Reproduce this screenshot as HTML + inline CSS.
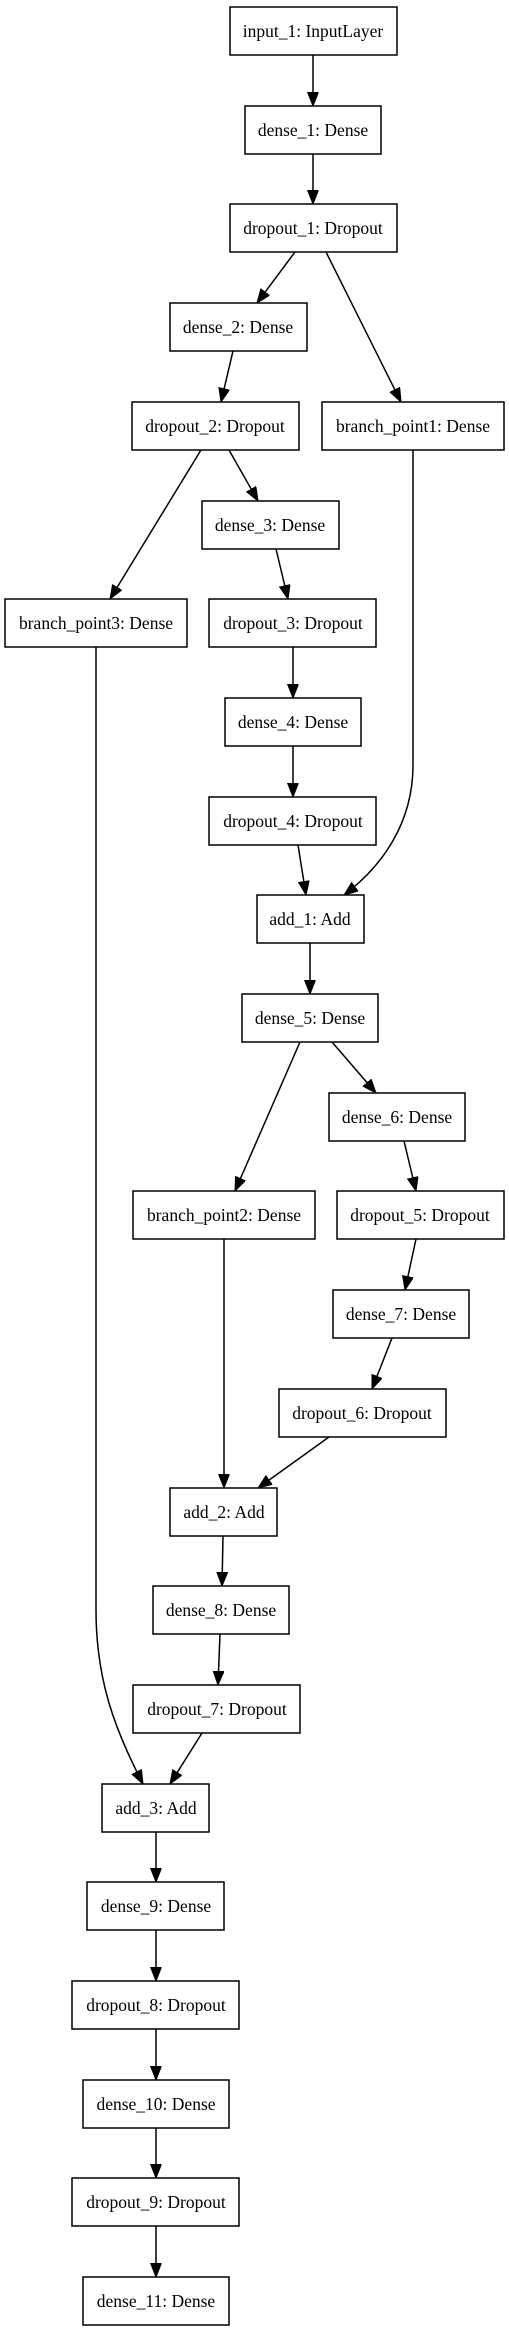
<!DOCTYPE html>
<html><head><meta charset="utf-8"><style>
html,body{margin:0;padding:0;background:#fff;}
svg{display:block;}
text{font-family:"Liberation Serif",serif;font-size:17.5px;fill:#000;text-anchor:middle;}
rect{fill:#fff;stroke:#000;stroke-width:1.5;}
path{fill:none;stroke:#000;stroke-width:1.5;}
</style></head><body>
<svg width="509" height="2331" viewBox="0 0 509 2331" xmlns="http://www.w3.org/2000/svg">
<defs><marker id="a" markerUnits="userSpaceOnUse" markerWidth="16" markerHeight="12" refX="14" refY="5.5" orient="auto"><path d="M0,0 L14,5.5 L0,11 Z" style="fill:#000;stroke:#000;stroke-width:1"/></marker></defs>
<g>
<path d="M313,55 L313,106" marker-end="url(#a)"/>
<path d="M313,154 L313,204" marker-end="url(#a)"/>
<path d="M295,252 L257,303" marker-end="url(#a)"/>
<path d="M326,252 L401,402" marker-end="url(#a)"/>
<path d="M233,351 L221,402" marker-end="url(#a)"/>
<path d="M201,450 L110,599" marker-end="url(#a)"/>
<path d="M229,450 L258,501" marker-end="url(#a)"/>
<path d="M413,450 L413,765 C413,825 380,868 344,895" marker-end="url(#a)"/>
<path d="M276,549 L288,599" marker-end="url(#a)"/>
<path d="M293,647 L293,698" marker-end="url(#a)"/>
<path d="M293,746 L293,797" marker-end="url(#a)"/>
<path d="M298,845 L306,895" marker-end="url(#a)"/>
<path d="M96,647 L96,1610 C96,1680 115,1730 143,1784" marker-end="url(#a)"/>
<path d="M310,943 L310,994" marker-end="url(#a)"/>
<path d="M300,1042 L235,1191" marker-end="url(#a)"/>
<path d="M332,1042 L376,1093" marker-end="url(#a)"/>
<path d="M404,1141 L416,1191" marker-end="url(#a)"/>
<path d="M416,1239 L405,1290" marker-end="url(#a)"/>
<path d="M392,1338 L372,1389" marker-end="url(#a)"/>
<path d="M224,1239 L224,1488" marker-end="url(#a)"/>
<path d="M329,1437 L258,1488" marker-end="url(#a)"/>
<path d="M223,1536 L222,1586" marker-end="url(#a)"/>
<path d="M220,1634 L218,1685" marker-end="url(#a)"/>
<path d="M202,1733 L170,1784" marker-end="url(#a)"/>
<path d="M156,1832 L156,1882" marker-end="url(#a)"/>
<path d="M156,1930 L156,1981" marker-end="url(#a)"/>
<path d="M156,2029 L156,2080" marker-end="url(#a)"/>
<path d="M156,2128 L156,2178" marker-end="url(#a)"/>
<path d="M156,2226 L156,2277" marker-end="url(#a)"/>
</g>
<g>
<rect x="230" y="7" width="167" height="48"/><text x="313" y="37">input_1: InputLayer</text>
<rect x="245" y="106" width="136" height="48"/><text x="313" y="136">dense_1: Dense</text>
<rect x="230" y="204" width="167" height="48"/><text x="313" y="234">dropout_1: Dropout</text>
<rect x="170" y="303" width="137" height="48"/><text x="238" y="333">dense_2: Dense</text>
<rect x="132" y="402" width="167" height="48"/><text x="215" y="432">dropout_2: Dropout</text>
<rect x="322" y="402" width="182" height="48"/><text x="413" y="432">branch_point1: Dense</text>
<rect x="202" y="501" width="137" height="48"/><text x="270" y="531">dense_3: Dense</text>
<rect x="5" y="599" width="182" height="48"/><text x="96" y="629">branch_point3: Dense</text>
<rect x="209" y="599" width="167" height="48"/><text x="293" y="629">dropout_3: Dropout</text>
<rect x="225" y="698" width="136" height="48"/><text x="293" y="728">dense_4: Dense</text>
<rect x="209" y="797" width="167" height="48"/><text x="293" y="827">dropout_4: Dropout</text>
<rect x="257" y="895" width="107" height="48"/><text x="310" y="925">add_1: Add</text>
<rect x="242" y="994" width="136" height="48"/><text x="310" y="1024">dense_5: Dense</text>
<rect x="329" y="1093" width="136" height="48"/><text x="397" y="1123">dense_6: Dense</text>
<rect x="133" y="1191" width="182" height="48"/><text x="224" y="1221">branch_point2: Dense</text>
<rect x="337" y="1191" width="167" height="48"/><text x="420" y="1221">dropout_5: Dropout</text>
<rect x="333" y="1290" width="136" height="48"/><text x="401" y="1320">dense_7: Dense</text>
<rect x="279" y="1389" width="167" height="48"/><text x="362" y="1419">dropout_6: Dropout</text>
<rect x="170" y="1488" width="107" height="48"/><text x="224" y="1518">add_2: Add</text>
<rect x="153" y="1586" width="136" height="48"/><text x="221" y="1616">dense_8: Dense</text>
<rect x="133" y="1685" width="167" height="48"/><text x="217" y="1715">dropout_7: Dropout</text>
<rect x="102" y="1784" width="107" height="48"/><text x="156" y="1814">add_3: Add</text>
<rect x="87" y="1882" width="137" height="48"/><text x="156" y="1912">dense_9: Dense</text>
<rect x="72" y="1981" width="167" height="48"/><text x="156" y="2011">dropout_8: Dropout</text>
<rect x="83" y="2080" width="146" height="48"/><text x="156" y="2110">dense_10: Dense</text>
<rect x="72" y="2178" width="167" height="48"/><text x="156" y="2208">dropout_9: Dropout</text>
<rect x="83" y="2277" width="146" height="48"/><text x="156" y="2307">dense_11: Dense</text>
</g>
</svg>
</body></html>
